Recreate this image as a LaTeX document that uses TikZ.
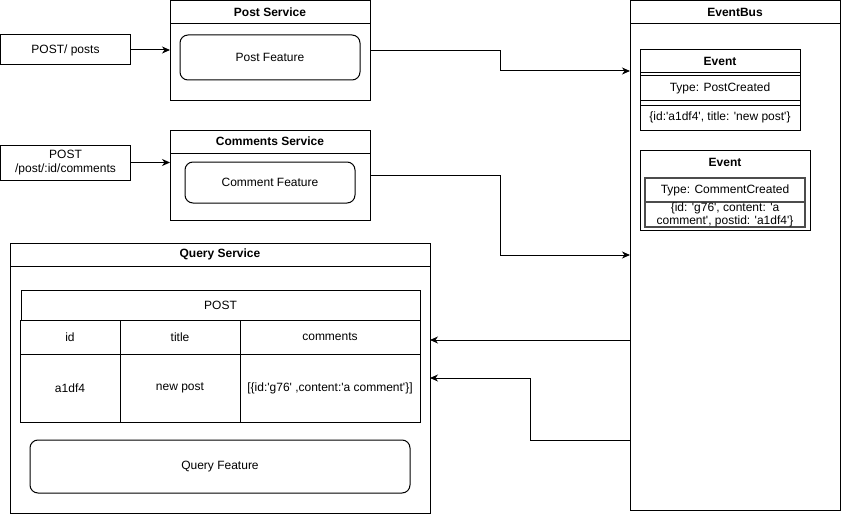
\documentclass[tikz,border=0pt]{standalone}
\usepackage{fontspec}
\setmainfont{Liberation Sans}[Ligatures=TeXOff]
\usetikzlibrary{arrows.meta}
\newcommand\myfs{\fontsize{12}{13.5}\selectfont}
\tikzset{
  box/.style={draw, line width=1pt, inner sep=0pt, outer sep=0pt, anchor=north west, align=center, font=\myfs},
  rbox/.style={box, rounded corners=8pt},
  ttl/.style={inner sep=0pt, font=\myfs\bfseries},
  txt/.style={inner sep=0pt, font=\myfs, align=center},
  sep/.style={line width=1pt},
  arr/.style={line width=1pt, -{Stealth[length=8pt,width=7pt,inset=2.5pt]}},
}
\begin{document}
\begin{tikzpicture}[x=1pt,y=-1pt]
\useasboundingbox[fill=white] (0,0) rectangle (841,519);

% request boxes
\node[box, minimum width=130, minimum height=30] (postreq) at (0.5,35) {POST/ posts};
\node[box, minimum width=130, minimum height=35] (comreq) at (0.5,145) {POST\\/post/:id/comments};

% Post Service
\node[box, minimum width=200, minimum height=100] (ps) at (170,0.5) {};
\draw[sep] ([yshift=-23pt]ps.north west) -- ([yshift=-23pt]ps.north east);
\node[ttl] (pst) at ([yshift=-11.5pt]ps.north) {Post Service};
\node[rbox, minimum width=180, minimum height=45] (pf) at (180,35) {Post Feature};

% Comments Service
\node[box, minimum width=200, minimum height=90] (cs) at (170,130) {};
\draw[sep] ([yshift=-23pt]cs.north west) -- ([yshift=-23pt]cs.north east);
\node[ttl] (cst) at ([yshift=-11.5pt]cs.north) {Comments Service};
\node[rbox, minimum width=170, minimum height=41] (cf) at (185,162) {Comment Feature};

% EventBus
\node[box, minimum width=210, minimum height=510] (eb) at (630,0.5) {};
\draw[sep] ([yshift=-23pt]eb.north west) -- ([yshift=-23pt]eb.north east);
\node[ttl] (ebt) at ([yshift=-11.5pt]eb.north) {EventBus};

% Event 1
\node[box, minimum width=160, minimum height=80] (ev1) at (640,50) {};
\draw[sep] ([yshift=-23pt]ev1.north west) -- ([yshift=-23pt]ev1.north east);
\draw[sep] ([yshift=-26pt]ev1.north west) -- ([yshift=-26pt]ev1.north east);
\draw[sep] ([yshift=-50pt]ev1.north west) -- ([yshift=-50pt]ev1.north east);
\draw[sep] ([yshift=-55pt]ev1.north west) -- ([yshift=-55pt]ev1.north east);
\node[ttl] (ev1t) at ([yshift=-11.5pt]ev1.north) {Event};
\node[txt] (ev1a) at ([yshift=-38pt]ev1.north) {Type: PostCreated};
\node[txt] (ev1b) at ([yshift=-67.5pt]ev1.north) {\{id:'a1df4', title: 'new post'\}};

% Event 2
\node[box, minimum width=170, minimum height=80] (ev2) at (640,150) {};
\node[ttl] (ev2t) at ([yshift=-12pt]ev2.north) {Event};
\node[box, draw=black!70, line width=1.4pt, minimum width=160, minimum height=49] (ev2in) at (645,178) {};
\draw[draw=black!70, line width=1.4pt] ([yshift=-24pt]ev2in.north west) -- ([yshift=-24pt]ev2in.north east);
\node[txt] (ev2a) at ([yshift=-12pt]ev2in.north) {Type: CommentCreated};
\node[txt] (ev2b) at ([yshift=-37pt]ev2in.north) {\{id: 'g76', content: 'a\\comment', postid: 'a1df4'\}};

% Query Service
\node[box, minimum width=420, minimum height=270] (qs) at (10,243) {};
\draw[sep] ([yshift=-23pt]qs.north west) -- ([yshift=-23pt]qs.north east);
\node[ttl] (qst) at ([yshift=-11.5pt]qs.north) {Query Service};

% table
\node[box, minimum width=399, minimum height=30] (th) at (21,290) {POST};
\node[box, minimum width=100, minimum height=34] (c11) at (20,320) {id};
\node[box, minimum width=120, minimum height=34] (c12) at (120,320) {title};
\node[box, minimum width=180, minimum height=34] (c13) at (240,320) {comments};
\node[box, minimum width=100, minimum height=68] (c21) at (20,354) {a1df4};
\node[box, minimum width=120, minimum height=68] (c22) at (120,354) {new post};
\node[box, minimum width=180, minimum height=68] (c23) at (240,354) {[\{id:'g76' ,content:'a comment'\}]};

\node[rbox, minimum width=380, minimum height=53] (qf) at (30,440) {Query Feature};

% connectors
\coordinate (b1) at (500,71);
\coordinate (b2) at (500,255);
\coordinate (y3) at (0,340);
\coordinate (b4) at (530,440);

\draw[arr] (postreq.east) -- (postreq.east -| ps.west);
\draw[arr] (comreq.east) -- (comreq.east -| cs.west);
\draw[arr] (ps.east) -- (b1 |- ps.east) |- (eb.west |- b1);
\draw[arr] (cs.east) -- (b2 |- cs.east) |- (eb.west |- b2);
\draw[arr] (eb.west |- y3) -- (qs.east |- y3);
\draw[arr] (eb.west |- b4) -- (b4) |- (qs.east);
\end{tikzpicture}
\end{document}
